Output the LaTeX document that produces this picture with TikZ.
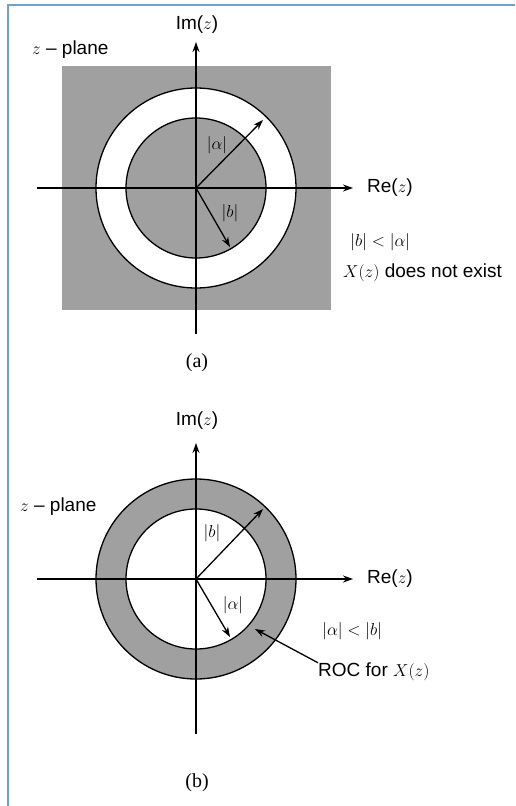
\documentclass[tikz,border=0pt]{standalone}
\usepackage{fontspec}
\setmainfont{Liberation Sans}
\newfontfamily\capfont{Liberation Serif}
\usetikzlibrary{arrows.meta}
\definecolor{regiongray}{RGB}{160,160,160}
\definecolor{frameblue}{RGB}{110,160,210}
\tikzstyle{axis}    = [line width=1.3pt, -{Stealth[length=10pt,width=7pt]}]
\tikzstyle{radial}  = [line width=1.3pt, -{Stealth[length=10pt,width=7pt]}]
\tikzstyle{ring}    = [draw=black, line width=1.3pt]
\tikzstyle{lbl}     = [font=\fontsize{19}{22}\selectfont, inner sep=0pt]
\tikzstyle{captext} = [font=\capfont\fontsize{20}{23}\selectfont, inner sep=0pt]

\begin{document}
\begin{tikzpicture}[x=1pt, y=-1pt]
  \useasboundingbox (0,0) rectangle (515,806);
  \draw[frameblue, line width=1.2pt] (8,806) -- (8,5) -- (515,5);

  % (a): |b| < |alpha|
  \coordinate (aO) at (196,188);
  \fill[regiongray] (62,66) rectangle (331,310);
  \filldraw[ring, fill=white] (aO) circle[radius=100pt];
  \filldraw[ring, fill=regiongray] (aO) circle[radius=70pt];
  \coordinate (aW) at (37,188);
  \coordinate (aE) at (353,188);
  \coordinate (aS) at (196,334);
  \coordinate (aN) at (196,42);
  \draw[axis] (aW) -- (aE);
  \draw[axis] (aS) -- (aN);
  \coordinate (aOuter) at (263,120);
  \coordinate (aInner) at (230,247);
  \draw[radial] (aO) -- (aOuter);
  \draw[radial] (aO) -- (aInner);
  \node[lbl] (aIm) at (197,25) {Im($z$)};
  \node[lbl, anchor=west] (aPlane) at (32,50) {$z$ -- plane};
  \node[lbl, anchor=west] (aRe) at (367,188) {Re($z$)};
  \node[lbl] (aAlpha) at (217,145) {$|\alpha|$};
  \node[lbl] (aB) at (230,213) {$|b|$};
  \node[lbl, anchor=west] (aCond) at (350,242) {$|b|<|\alpha|$};
  \node[lbl, anchor=west] (aNote) at (343,273) {$X(z)$ does not exist};
  \node[captext] (aCap) at (197,363) {(a)};

  % (b): |alpha| < |b|
  \coordinate (bO) at (196,579);
  \filldraw[ring, fill=regiongray] (bO) circle[radius=100pt];
  \filldraw[ring, fill=white] (bO) circle[radius=70pt];
  \coordinate (bW) at (37,579);
  \coordinate (bE) at (353,579);
  \coordinate (bS) at (196,734);
  \coordinate (bN) at (196,443);
  \draw[axis] (bW) -- (bE);
  \draw[axis] (bS) -- (bN);
  \coordinate (bOuter) at (263,509);
  \coordinate (bInner) at (230,637);
  \draw[radial] (bO) -- (bOuter);
  \draw[radial] (bO) -- (bInner);
  \node[lbl] (bIm) at (197,421) {Im($z$)};
  \node[lbl, anchor=west] (bPlane) at (20,507) {$z$ -- plane};
  \node[lbl, anchor=west] (bRe) at (367,579) {Re($z$)};
  \node[lbl] (bB) at (212,533) {$|b|$};
  \node[lbl] (bAlpha) at (233,605) {$|\alpha|$};
  \node[lbl, anchor=west] (bCond) at (322,631) {$|\alpha|<|b|$};
  \node[lbl, anchor=west] (bRoc) at (318,672) {ROC for $X(z)$};
  \coordinate (bRing) at (255,629);
  \draw[radial] (bRoc.north west) -- (bRing);
  \node[captext] (bCap) at (197,783) {(b)};
\end{tikzpicture}
\end{document}
